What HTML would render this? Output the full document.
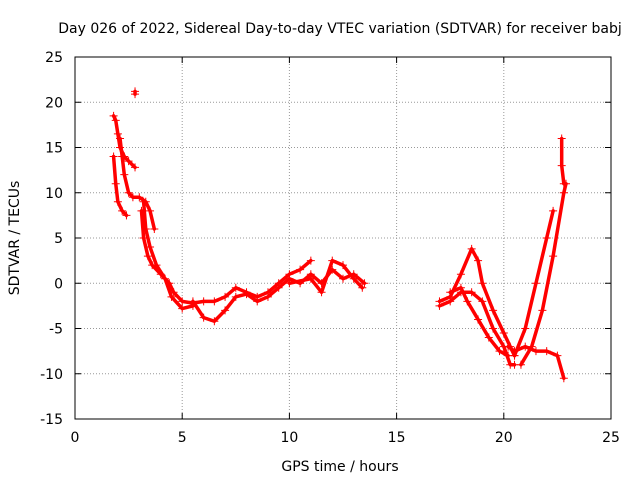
<!DOCTYPE html>
<html><head><meta charset="utf-8"><style>
body{margin:0;background:#fff}
svg{display:block;font-family:"DejaVu Sans","Liberation Sans",sans-serif}
</style></head><body>
<svg id="chart" width="640" height="480">
<rect width="640" height="480" fill="#fff"/>
<text x="340" y="33" font-size="14" text-anchor="middle">Day 026 of 2022, Sidereal Day-to-day VTEC variation (SDTVAR) for receiver babj</text>
<g id="grid"></g><g id="axes"></g><g id="series"></g>
<text x="340" y="471" font-size="14" text-anchor="middle">GPS time / hours</text>
<text transform="translate(19,238) rotate(-90)" font-size="14" text-anchor="middle">SDTVAR / TECUs</text>
</svg>
<script>
const xTicks=[0,5,10,15,20,25];
const yTicks=[-15,-10,-5,0,5,10,15,20,25];
const trackA=[[1.8,18.5],[1.9,18],[2.0,16.5],[2.1,15],[2.3,14],[2.5,13.5],[2.8,12.8]];
const trackB=[[1.8,14],[1.9,11],[2.0,9],[2.2,8],[2.4,7.5]];
const trackC=[[2.1,16],[2.2,14],[2.3,12],[2.5,10],[2.7,9.5],[3.0,9.5],[3.3,9],[3.5,8],[3.7,6]];
const trackMain=[[3.1,8],[3.2,5],[3.4,3],[3.6,2],[4,1],[4.4,0],[4.6,-1],[5,-2],[5.5,-2.2],[6,-2],[6.5,-2],[7,-1.5],[7.5,-0.5],[8,-1],[8.5,-1.5],[9,-1],[9.5,0],[10,1],[10.5,1.5],[11,2.5]];
const trackMain2=[[3.2,9],[3.3,6],[3.5,4],[3.8,2],[4.2,0.5],[4.5,-1.5],[5,-2.8],[5.5,-2.5]];
const trackLow=[[5.5,-2],[6,-3.8],[6.5,-4.2],[7,-3],[7.5,-1.5],[8,-1.2],[8.5,-2],[9,-1.5],[9.5,-0.5],[10,0.5],[10.5,0],[11,1],[11.5,0],[12,1.5],[12.5,0.5],[13,1],[13.5,0]];
const trackLate=[[10,0],[11,0.5],[11.5,-1],[12,2.5],[12.5,2],[13,0.5],[13.4,-0.5]];
const dot=[[2.8,21.2],[2.8,20.9]];
const trackR1=[[17,-2],[17.5,-1.5],[18,1],[18.5,3.8],[18.8,2.5],[19,0],[19.5,-3],[20,-5.5],[20.3,-7],[20.5,-8]];
const trackR2=[[17,-2.5],[17.5,-2],[18,-1],[18.5,-1],[19,-2],[19.5,-5],[20,-7],[20.3,-9],[20.5,-9]];
const trackR3=[[17.5,-1],[18,-0.5],[18.3,-2],[18.8,-4],[19.3,-6],[19.8,-7.5],[20.2,-8]];
const trackR4=[[20.2,-7],[20.5,-7.5],[21,-7],[21.5,-7.5],[22,-7.5],[22.5,-8],[22.8,-10.5]];
const trackR5=[[20.8,-9],[21.3,-7],[21.8,-3],[22.3,3],[22.8,10],[22.9,11]];
const trackR6=[[20.5,-8],[21,-5],[21.5,0],[22,5],[22.3,8]];
const trackR7=[[22.7,16],[22.7,13],[22.8,11]];
const tracks=[trackA,trackB,trackC,trackMain,trackMain2,trackLow,trackLate,dot,trackR1,trackR2,trackR3,trackR4,trackR5,trackR6,trackR7];

const NS="http://www.w3.org/2000/svg";
const X0=75,X1=611,Y0=419,Y1=57;
const sx=v=>X0+(v-0)/(25-0)*(X1-X0);
const sy=v=>Y0-(v+15)/(40)*(Y0-Y1);
function mk(t,a,p){const e=document.createElementNS(NS,t);for(const k in a)e.setAttribute(k,a[k]);(p||document.getElementById('chart')).appendChild(e);return e;}
const grid=document.getElementById('grid'),axes=document.getElementById('axes'),ser=document.getElementById('series');
xTicks.forEach(t=>{const x=sx(t);
 if(t>0&&t<25){const g=mk('line',{x1:x,x2:x,y1:Y0,y2:Y1,stroke:'#999','stroke-dasharray':'1,2'},grid);}
 const l=mk('text',{x:x,y:Y0+23,'font-size':14,'text-anchor':'middle'},axes);l.textContent=t;
 
 mk('line',{x1:x,x2:x,y1:Y0,y2:Y0-6,stroke:'#000'},axes);mk('line',{x1:x,x2:x,y1:Y1,y2:Y1+6,stroke:'#000'},axes);});
yTicks.forEach(t=>{const y=sy(t);
 if(t>-15&&t<25){const g=mk('line',{x1:X0,x2:X1,y1:y,y2:y,stroke:'#999','stroke-dasharray':'1,2'},grid);}
 const l=mk('text',{x:X0-12,y:y+5,'font-size':14,'text-anchor':'end'},axes);l.textContent=t;
 
 mk('line',{x1:X0,x2:X0+6,y1:y,y2:y,stroke:'#000'},axes);mk('line',{x1:X1,x2:X1-6,y1:y,y2:y,stroke:'#000'},axes);});
const fr=mk('rect',{x:X0,y:Y1,width:X1-X0,height:Y0-Y1,fill:'none',stroke:'#000'},axes);

tracks.forEach(tr=>{
 const pl=mk('polyline',{points:tr.map(p=>sx(p[0])+','+sy(p[1])).join(' '),fill:'none',stroke:'#f00','stroke-width':3.5,'stroke-linejoin':'round','stroke-linecap':'round'},ser);
 
 tr.forEach(p=>{const x=sx(p[0]),y=sy(p[1]);
  const m=mk('path',{d:`M${x-4},${y}H${x+4}M${x},${y-4}V${y+4}`,stroke:'#f00','stroke-width':1},ser);
  });
});
</script>
</body></html>
